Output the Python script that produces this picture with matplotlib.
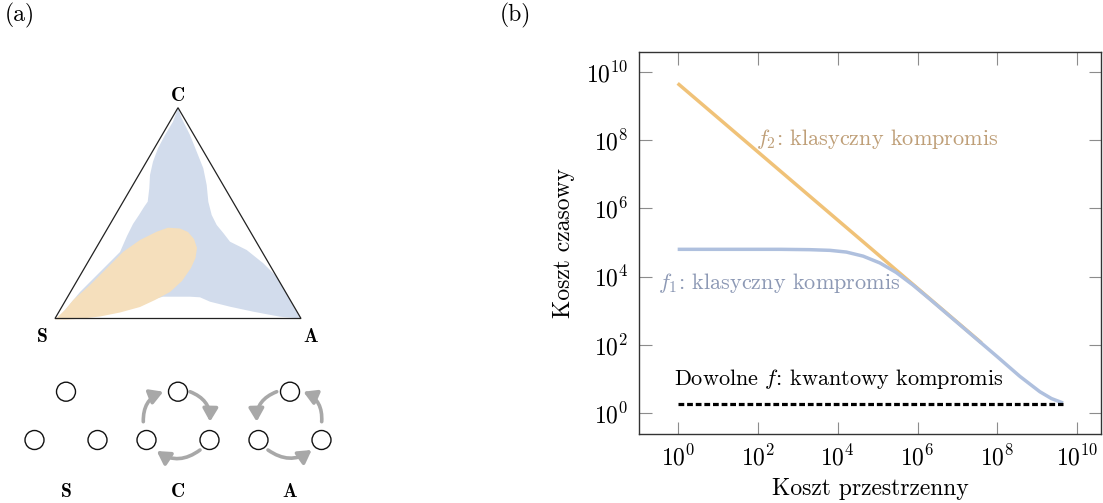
import numpy as np
import matplotlib
matplotlib.use("Agg")
import matplotlib.pyplot as plt
from matplotlib.patches import Polygon, Circle, FancyArrowPatch
from matplotlib.ticker import FixedLocator, NullLocator

plt.rcParams['font.family'] = 'cmr10'
plt.rcParams['mathtext.fontset'] = 'cm'
plt.rcParams['axes.unicode_minus'] = False
plt.rcParams['axes.formatter.use_mathtext'] = True

# ---------------- Panel (b) data ----------------
f2_x = [1e0, 10 ** 7.6]
f2_y = [10 ** 9.66, 10 ** 2.06]
f1_logx = [0.0, 1.0, 2.0, 2.56, 3.3, 3.81, 4.22, 4.64, 5.06, 5.47, 5.89, 6.31,
           6.72, 7.14, 7.56, 8.0, 8.56, 9.06, 9.35, 9.64]
f1_logy = [4.80, 4.80, 4.80, 4.80, 4.79, 4.77, 4.72, 4.60, 4.40, 4.12, 3.75, 3.34,
           2.93, 2.51, 2.09, 1.65, 1.08, 0.63, 0.43, 0.30]
quantum_x = [1e0, 10 ** 9.64]
quantum_y = [10 ** 0.28, 10 ** 0.28]
tick_vals = [1e0, 1e2, 1e4, 1e6, 1e8, 1e10]

# ---------------- Panel (a) data (pixel-space schematic) ----------------
tri_S = (55.0, 318.5)
tri_A = (301.0, 318.5)
tri_C = (178.0, 107.7)
blue_outline = [
    # top lobe, right side, down to right lobe
    (178.0, 107.7), (181.7, 118.3), (190.0, 135.0), (196.7, 151.7), (203.3, 168.3),
    (206.7, 185.0), (208.3, 201.7), (211.7, 215.0), (216.7, 225.0), (223.3, 233.0),
    (230.0, 241.7), (246.7, 250.0), (263.3, 263.3), (276.7, 276.7), (286.7, 293.3),
    (294.0, 307.0), (300.5, 318.5),
    # right lobe, lower side
    (280.0, 316.7), (253.3, 311.7), (230.0, 306.7), (210.0, 301.7), (200.0, 297.3),
    (190.0, 296.7), (163.0, 296.7),
    # left lobe (mostly hidden beneath the orange region)
    (140.0, 303.0), (100.0, 312.0), (58.0, 318.5), (80.0, 292.0), (100.0, 272.0),
    (120.0, 252.0), (127.0, 236.0), (133.0, 224.0), (139.0, 215.0), (144.0, 207.0),
    # top lobe, left side
    (147.7, 201.7), (149.3, 188.3), (150.0, 175.0), (153.0, 161.7), (158.0, 148.3),
    (165.0, 135.0), (173.0, 121.7)]
orange_outline = [
    (55, 319.5), (65, 310), (73.3, 300), (90, 285), (106.7, 268.3), (123.3, 251.7),
    (140, 240), (156.7, 231.7), (168, 227.7), (180, 228.5), (188, 232), (194, 239),
    (197, 248), (195.5, 258), (191, 268), (182, 281), (170, 292), (155, 300),
    (140, 307), (120, 312.5), (100, 316.5), (80, 318.8), (66, 319.5)]
groups = ['S', 'C', 'A']
group_cx = [66.0, 178.0, 290.0]
node_offsets = [(0.0, 391.7), (-31.5, 440.0), (31.5, 440.0)]
node_r = 9.5
label_y = 491.7
# arrows: (group index, start, end, rad)
arrows = [
    (1, (-34.7, 421.7), (-14.7, 391.7), -0.35),
    (1, (12.0, 391.7), (32.0, 421.7), -0.35),
    (1, (22.0, 450.0), (-21.3, 451.0), -0.35),
    (2, (-13.3, 391.7), (-33.3, 421.7), 0.35),
    (2, (-22.0, 450.0), (21.7, 450.0), 0.35),
    (2, (31.7, 421.7), (13.3, 391.7), 0.35),
]

W, H = 1103, 503
fig = plt.figure(figsize=(W / 100, H / 100), dpi=100)

# ---------------- Panel (a) ----------------
axa = fig.add_axes([0, 0, 500 / W, 1])
axa.set_xlim(0, 500)
axa.set_ylim(H, 0)
axa.axis('off')

axa.add_patch(Polygon(blue_outline, closed=True, facecolor='#d2dcec', edgecolor='none', zorder=1))
axa.add_patch(Polygon(orange_outline, closed=True, facecolor='#f5dfbc', edgecolor='none', zorder=2))
axa.add_patch(Polygon([tri_S, tri_A, tri_C], closed=True, facecolor='none',
                      edgecolor='#222222', lw=0.9, zorder=3))
axa.text(tri_C[0], tri_C[1] - 3, 'C', family='cmb10', fontsize=14, ha='center', va='bottom')
axa.text(tri_S[0] - 13, tri_S[1] + 19, 'S', family='cmb10', fontsize=14, ha='center', va='center')
axa.text(tri_A[0] + 10, tri_A[1] + 19, 'A', family='cmb10', fontsize=14, ha='center', va='center')

for g, cx in zip(groups, group_cx):
    for dx, y in node_offsets:
        axa.add_patch(Circle((cx + dx, y), node_r, facecolor='white', edgecolor='#111111', lw=1.0, zorder=4))
    axa.text(cx, label_y, g, family='cmb10', fontsize=14, ha='center', va='center')

for gi, (sx, sy), (ex, ey), rad in arrows:
    cx = group_cx[gi]
    arr = FancyArrowPatch((cx + sx, sy), (cx + ex, ey),
                          connectionstyle=f'arc3,rad={rad}',
                          arrowstyle='-|>,head_length=0.55,head_width=0.32',
                          mutation_scale=14, color='#a8a8a8', lw=2.6, zorder=3,
                          shrinkA=0, shrinkB=0)
    axa.add_patch(arr)

fig.text(20 / W, 1 - 15 / H, '(a)', fontsize=17, ha='center', va='center')
fig.text(515 / W, 1 - 15 / H, '(b)', fontsize=17, ha='center', va='center')

# ---------------- Panel (b) ----------------
axb = fig.add_axes([639.3 / W, (H - 434.4) / H, (1101 - 639.3) / W, (434.4 - 52.3) / H])
axb.set_xscale('log')
axb.set_yscale('log')
axb.set_xlim(10 ** -0.96, 10 ** 10.59)
axb.set_ylim(10 ** -0.62, 10 ** 10.57)

axb.plot(f2_x, f2_y, color='#f0c278', lw=2.5, solid_capstyle='butt', zorder=2)
axb.plot(10 ** np.array(f1_logx), 10 ** np.array(f1_logy), color='#afc0de', lw=2.5,
         solid_capstyle='butt', zorder=3)
axb.plot(quantum_x, quantum_y, color='black', lw=2.3, ls=(0, (1.8, 0.9)), zorder=4)

axb.text(10 ** 1.97, 10 ** 7.85, r'$f_2$: klasyczny kompromis', color='#bf9f78', fontsize=16,
         ha='left', va='baseline')
axb.text(10 ** -0.5, 10 ** 3.65, r'$f_1$: klasyczny kompromis', color='#8d99b5', fontsize=16,
         ha='left', va='baseline')
axb.text(10 ** -0.08, 10 ** 0.82, r'Dowolne $f$: kwantowy kompromis', color='black', fontsize=16,
         ha='left', va='baseline')

axb.xaxis.set_major_locator(FixedLocator(tick_vals))
axb.yaxis.set_major_locator(FixedLocator(tick_vals))
axb.xaxis.set_minor_locator(NullLocator())
axb.yaxis.set_minor_locator(NullLocator())
axb.tick_params(direction='in', length=9, width=0.8, color='#8c8c8c', top=True, right=True,
                labelsize=17, pad=8)
for s in axb.spines.values():
    s.set_color('#333333')
    s.set_linewidth(1.0)
axb.set_xlabel('Koszt przestrzenny', fontsize=17, labelpad=5)
axb.set_ylabel('Koszt czasowy', fontsize=17, labelpad=8)

fig.savefig('out.png', dpi=100)
